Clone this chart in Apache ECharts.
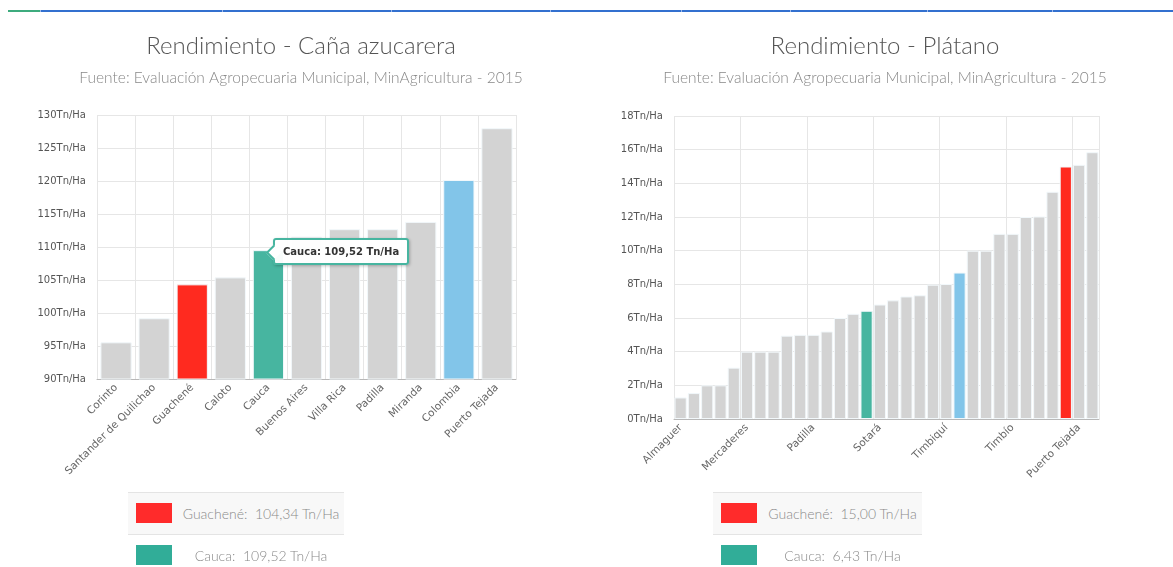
<!DOCTYPE html>
<html>
<head>
<meta charset="utf-8">
<script src="https://cdn.jsdelivr.net/npm/echarts@6/dist/echarts.min.js"></script>
<style>
  body { margin: 0; width: 1173px; height: 567px; overflow: hidden; background: #fff; position: relative; }
  .nav { position: absolute; top: 10px; left: 8px; width: 1165px; height: 2px; background: #3370cf; }
  .nav .green { position: absolute; left: 0; top: 0; width: 32px; height: 2px; background: #3dab7e; }
  .nav .sep { position: absolute; top: 0; width: 1px; height: 2px; background: #9db9ea; }
  .chart { position: absolute; top: 0; width: 560px; height: 567px; }
  .legend { position: absolute; top: 492px; font-family: Lato, "Open Sans", sans-serif; font-weight: 300; color: #8a8a8a; font-size: 14px; }
  .legend .row { position: relative; height: 41px; border-top: 1px solid #e4e4e4; }
  .legend .row.first { background: #f8f8f8; }
  .legend .box { position: absolute; left: 8px; top: 10px; width: 36px; height: 20px; }
  .legend .txt { position: absolute; left: 50px; right: 0; top: 0; line-height: 41px; text-align: center; white-space: pre; }
</style>
</head>
<body>
<div class="nav" id="nav"><div class="green"></div></div>
<div id="left_chart" class="chart" style="left:21px"></div>
<div id="right_chart" class="chart" style="left:605px"></div>
<div id="left_legend" class="legend" style="left:128px;width:216px"></div>
<div id="right_legend" class="legend" style="left:713px;width:209px"></div>

<script>
// datos
const canaCategorias = ['Corinto', 'Santander de Quilichao', 'Guachené', 'Caloto', 'Cauca', 'Buenos Aires',
  'Villa Rica', 'Padilla', 'Miranda', 'Colombia', 'Puerto Tejada'];
const canaValores = [95.56, 99.2, 104.34, 105.4, 109.52, 111.56, 112.7, 112.7, 113.8, 120.15, 128.0];

const platanoCategorias = ['Almaguer', 'Argelia', 'Balboa', 'Bolívar', 'La Vega', 'Mercaderes', 'Patía', 'Sucre',
  'Inzá', 'La Sierra', 'Padilla', 'Rosas', 'Piamonte', 'Cajibío', 'Cauca', 'Sotará', 'El Tambo', 'Florencia',
  'Guapí', 'López de Micay', 'Timbiquí', 'Colombia', 'Suárez', 'Morales', 'Buenos Aires', 'Timbío', 'Caloto',
  'Santander de Quilichao', 'Miranda', 'Guachené', 'Puerto Tejada', 'Villa Rica'];
const platanoValores = [1.28, 1.54, 2.0, 2.0, 3.05, 4.0, 4.0, 4.0, 4.95, 5.0, 5.0, 5.2, 6.0, 6.25, 6.43, 6.8, 7.05,
  7.28, 7.35, 7.98, 8.02, 8.7, 10.0, 10.0, 11.0, 11.0, 12.0, 12.03, 13.5, 15.0, 15.1, 15.85];

const navSeparadores = [32, 214, 383, 542, 673, 782, 919, 1044];

const colores = { 'Guachené': '#ff2a1f', 'Cauca': '#47b5a0', 'Colombia': '#82c5e9' };
const gris = '#d3d3d3';
const axisFont = 'DejaVu Sans';

function fmt(v) {
  return v.toFixed(2).replace('.', ',');
}

function barData(cats, vals) {
  return vals.map(function (v, i) {
    return { value: v, itemStyle: { color: colores[cats[i]] || gris } };
  });
}

function buildOption(titulo, cats, vals, yMin, yMax, yStep, labelEvery, gap) {
  return {
    animation: false,
    title: {
      text: titulo,
      subtext: 'Fuente: Evaluación Agropecuaria Municipal, MinAgricultura - 2015',
      left: 'center',
      top: 29,
      itemGap: 12,
      textStyle: { fontFamily: 'Lato', fontWeight: 300, fontSize: 24, color: '#555' },
      subtextStyle: { fontFamily: 'Lato', fontWeight: 300, fontSize: 15.5, color: '#888' }
    },
    tooltip: {
      trigger: 'item',
      transitionDuration: 0,
      backgroundColor: 'rgba(255,255,255,0.96)',
      borderColor: '#47b5a0',
      borderWidth: 2,
      padding: [4, 8],
      extraCssText: 'border-radius:3px;box-shadow:1px 1px 3px rgba(0,0,0,0.25);overflow:visible;',
      textStyle: { fontFamily: axisFont, fontSize: 10, fontWeight: 'bold', color: '#333' },
      formatter: function (p) {
        return '<div style="position:absolute;left:-7px;top:50%;margin-top:-5px;width:9px;height:9px;' +
          'background:#fff;border-left:2px solid #47b5a0;border-bottom:2px solid #47b5a0;transform:rotate(45deg)"></div>' +
          '<span style="position:relative">' + p.name + ': ' + fmt(p.value) + ' Tn/Ha</span>';
      },
      position: function (point, params, dom, rect) {
        return [rect.x + rect.width / 2 + 5, rect.y - 12];
      }
    },
    xAxis: {
      type: 'category',
      data: cats,
      axisLine: { lineStyle: { color: '#b8b8b8', width: 1 } },
      axisTick: { alignWithLabel: true, interval: labelEvery, length: 5, lineStyle: { color: '#b8b8b8' } },
      axisLabel: { interval: labelEvery, rotate: 45, fontFamily: axisFont, fontSize: 10.5, color: '#666', margin: 7 },
      splitLine: { show: true, interval: labelEvery, lineStyle: { color: '#e6e6e6' } }
    },
    yAxis: {
      type: 'value',
      min: yMin,
      max: yMax,
      interval: yStep,
      axisLine: { show: false },
      axisTick: { show: false },
      axisLabel: { formatter: '{value}Tn/Ha', fontFamily: axisFont, fontSize: 10, color: '#555', margin: 11 },
      splitLine: { lineStyle: { color: '#e6e6e6' } }
    },
    series: [{
      type: 'bar',
      data: barData(cats, vals),
      barCategoryGap: gap,
      itemStyle: { borderColor: '#f2f8fb', borderWidth: 1 },
      emphasis: { disabled: true }
    }]
  };
}

function buildLegend(id, cats, vals) {
  const el = document.getElementById(id);
  ['Guachené', 'Cauca'].forEach(function (name, k) {
    const v = vals[cats.indexOf(name)];
    const row = document.createElement('div');
    row.className = 'row' + (k === 0 ? ' first' : '');
    row.innerHTML = '<div class="box" style="background:' + (k === 0 ? '#ff2b2b' : '#31ad98') + '"></div>' +
      '<div class="txt">' + name + ':  ' + fmt(v) + ' Tn/Ha</div>';
    el.appendChild(row);
  });
}

navSeparadores.forEach(function (x) {
  const s = document.createElement('div');
  s.className = 'sep';
  s.style.left = x + 'px';
  document.getElementById('nav').appendChild(s);
});

const leftChart = echarts.init(document.getElementById('left_chart'));
const leftOpt = buildOption('Rendimiento - Caña azucarera', canaCategorias, canaValores, 90, 130, 5, 0, '18%');
leftOpt.grid = { left: 76, right: 65, top: 115, bottom: 188 };
leftChart.setOption(leftOpt);

const rightChart = echarts.init(document.getElementById('right_chart'));
const rightOpt = buildOption('Rendimiento - Plátano', platanoCategorias, platanoValores, 0, 18, 2, 4, '8%');
rightOpt.grid = { left: 69, right: 66, top: 116, bottom: 148 };
rightOpt.tooltip.show = false;
rightChart.setOption(rightOpt);

buildLegend('left_legend', canaCategorias, canaValores);
buildLegend('right_legend', platanoCategorias, platanoValores);

// tooltip fijo sobre Cauca como en la captura
leftChart.dispatchAction({ type: 'showTip', seriesIndex: 0, dataIndex: canaCategorias.indexOf('Cauca') });
</script>
</body>
</html>
